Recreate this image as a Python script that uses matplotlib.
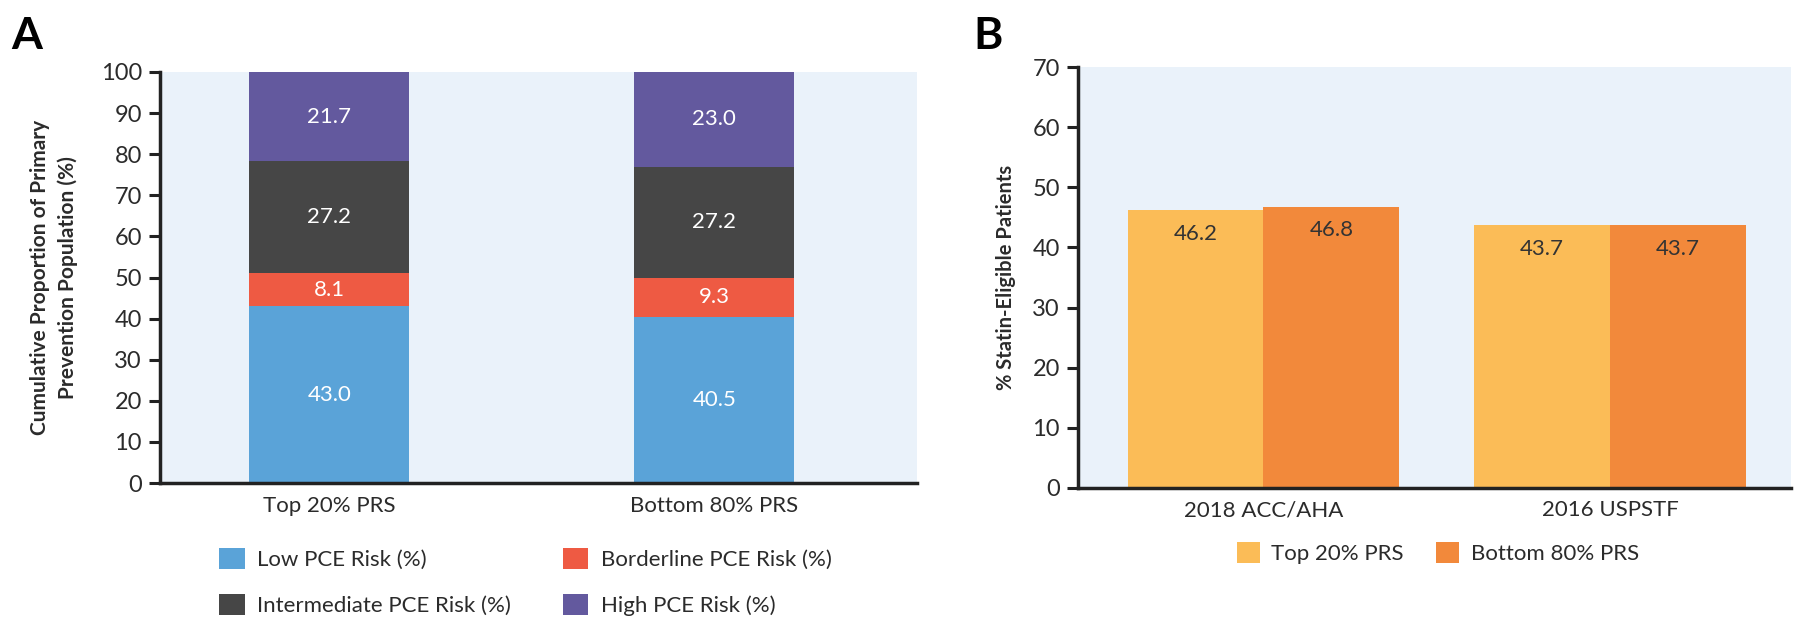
import matplotlib
matplotlib.use("Agg")
import matplotlib.pyplot as plt
import numpy as np

# ---------------- data ----------------
groups_a = ["Top 20% PRS", "Bottom 80% PRS"]
low_risk = [43.0, 40.5]
borderline_risk = [8.1, 9.3]
intermediate_risk = [27.2, 27.2]
high_risk = [21.7, 23.0]
series_a_names = ["Low PCE Risk (%)", "Borderline PCE Risk (%)",
                  "Intermediate PCE Risk (%)", "High PCE Risk (%)"]
yticks_a = [0, 10, 20, 30, 40, 50, 60, 70, 80, 90, 100]

groups_b = ["2018 ACC/AHA", "2016 USPSTF"]
top20_prs = [46.2, 43.7]
bottom80_prs = [46.8, 43.7]
series_b_names = ["Top 20% PRS", "Bottom 80% PRS"]
yticks_b = [0, 10, 20, 30, 40, 50, 60, 70]

# ---------------- style ----------------
plt.rcParams["font.family"] = ["Lato", "DejaVu Sans"]
TXT = "#2b2b2b"
BG = "#EAF2FA"
c_low, c_border, c_inter, c_high = "#5AA3D8", "#EE5A43", "#464646", "#63599E"
c_top, c_bot = "#FBBC57", "#F2893B"

fig = plt.figure(figsize=(18, 6.25), dpi=100)

def style_axes(ax):
    ax.set_facecolor(BG)
    for s in ("top", "right"):
        ax.spines[s].set_visible(False)
    for s in ("left", "bottom"):
        ax.spines[s].set_linewidth(2.5)
        ax.spines[s].set_color("#222222")
    ax.tick_params(axis="y", length=8, width=2.2, color="#222222",
                   labelsize=17, labelcolor=TXT, pad=5)
    ax.tick_params(axis="x", length=0, labelsize=16, labelcolor=TXT, pad=9)

# ---------------- panel A ----------------
axA = fig.add_axes([0.0889, 0.2272, 0.4205, 0.6576])
style_axes(axA)
xa = np.arange(len(groups_a))
wa = 0.416
stack = [low_risk, borderline_risk, intermediate_risk, high_risk]
colors_a = [c_low, c_border, c_inter, c_high]
bottom = np.zeros(len(groups_a))
handles_a = []
for vals, col, name in zip(stack, colors_a, series_a_names):
    vals = np.asarray(vals)
    bars = axA.bar(xa, vals, wa, bottom=bottom, color=col, label=name, linewidth=0)
    handles_a.append(bars)
    for xi, b, v in zip(xa, bottom, vals):
        axA.text(xi, b + v / 2, f"{v:.1f}", ha="center", va="center",
                 color="white", fontsize=16)
    bottom = bottom + vals
axA.set_xlim(-0.44, 1.526)
axA.set_ylim(0, 100)
axA.set_yticks(yticks_a)
axA.set_xticks(xa)
axA.set_xticklabels(groups_a)
axA.set_ylabel("Cumulative Proportion of Primary\nPrevention Population (%)",
               fontsize=15, fontweight="bold", color=TXT, labelpad=16,
               linespacing=1.5)
order = [0, 2, 1, 3]
legA = axA.legend([handles_a[i] for i in order], [series_a_names[i] for i in order],
                  ncol=2, loc="upper left", bbox_to_anchor=(0.1217, 0.1232),
                  bbox_transform=fig.transFigure, frameon=False, fontsize=16,
                  handlelength=1.15, handleheight=1.1, handletextpad=0.55,
                  columnspacing=2.35, labelspacing=1.05, borderpad=0,
                  borderaxespad=0)
for t in legA.get_texts():
    t.set_color(TXT)
fig.text(0.006, 0.975, "A", fontsize=32, fontweight="bold", va="top", ha="left",
         color="black")

# ---------------- panel B ----------------
axB = fig.add_axes([0.5989, 0.2192, 0.3961, 0.6736])
style_axes(axB)
xb = np.arange(len(groups_b))
wb = 0.392
bt = axB.bar(xb - wb / 2, top20_prs, wb, color=c_top, label=series_b_names[0], linewidth=0)
bb = axB.bar(xb + wb / 2, bottom80_prs, wb, color=c_bot, label=series_b_names[1], linewidth=0)
for bars, vals in ((bt, top20_prs), (bb, bottom80_prs)):
    for rect, v in zip(bars, vals):
        axB.annotate(f"{v:.1f}", (rect.get_x() + rect.get_width() / 2, v),
                     xytext=(0, -17), textcoords="offset points",
                     ha="center", va="center", fontsize=16, color="#333333")
axB.set_xlim(-0.535, 1.522)
axB.set_ylim(0, 70)
axB.set_yticks(yticks_b)
axB.set_xticks(xb)
axB.set_xticklabels(groups_b)
axB.set_ylabel("% Statin-Eligible Patients", fontsize=14.5, fontweight="bold",
               color=TXT, labelpad=12)
legB = axB.legend([bt, bb], series_b_names, ncol=2, loc="upper left",
                  bbox_to_anchor=(0.6872, 0.1328), bbox_transform=fig.transFigure,
                  frameon=False, fontsize=16, handlelength=1.05, handleheight=1.1,
                  handletextpad=0.5, columnspacing=1.45, borderpad=0,
                  borderaxespad=0)
for t in legB.get_texts():
    t.set_color(TXT)
fig.text(0.541, 0.975, "B", fontsize=32, fontweight="bold", va="top", ha="left",
         color="black")

fig.savefig("out.png", dpi=100, facecolor="white")
